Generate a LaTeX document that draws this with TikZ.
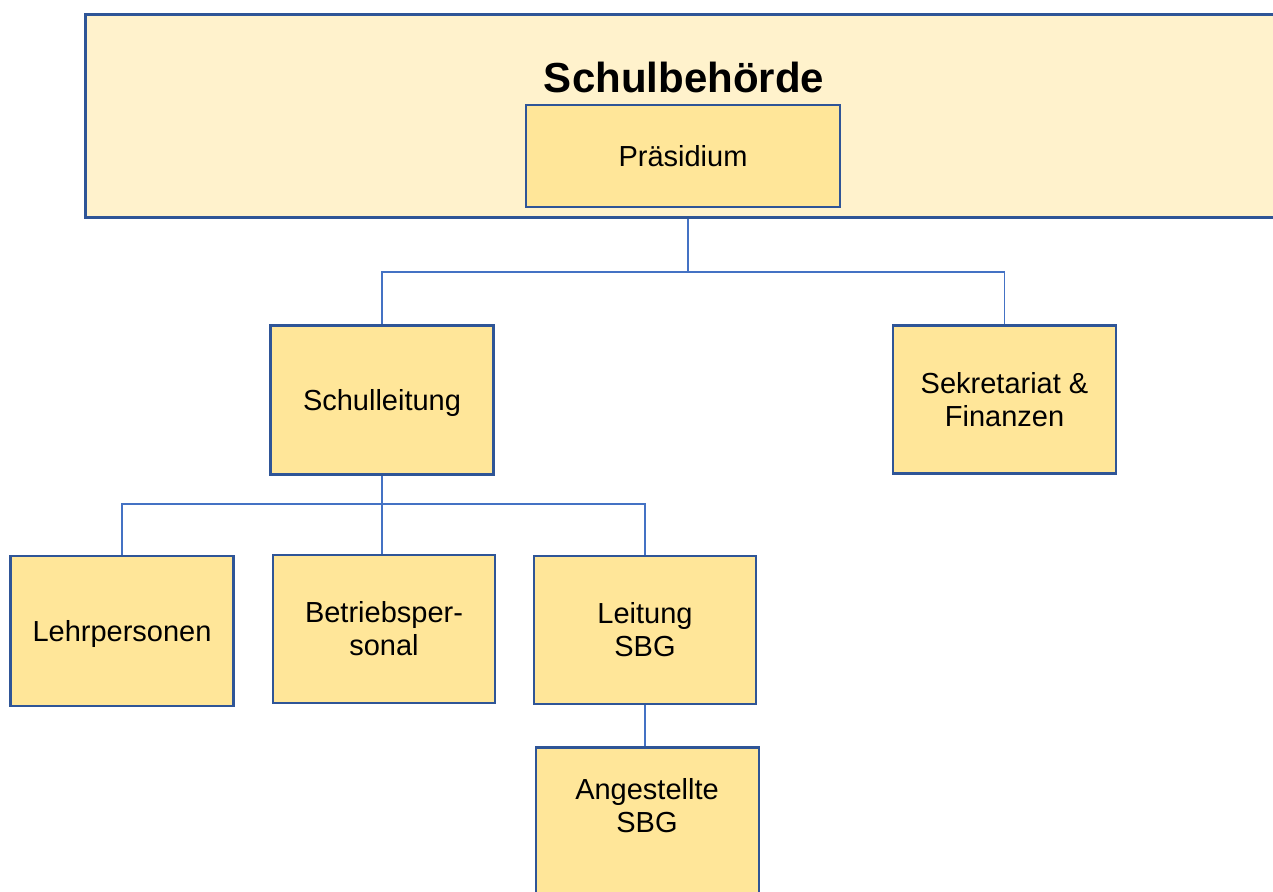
\documentclass[tikz,border=0pt]{standalone}
\usepackage{fontspec}
\setmainfont{Liberation Sans}
\definecolor{bord}{HTML}{2F5597}
\definecolor{conn}{HTML}{4472C4}
\definecolor{bigfill}{HTML}{FFF2CC}
\definecolor{boxfill}{HTML}{FFE699}
\begin{document}
\begin{tikzpicture}[x=1pt,y=-1pt,
  orgbox/.style={draw=bord,fill=boxfill,line width=2.8pt,align=center,
    font=\fontsize{29}{33}\selectfont,inner sep=0pt},
  oneline/.style={text height=26.2pt,text depth=6.1pt},
  connline/.style={draw=conn,line width=1.3pt}]
\useasboundingbox (0,0) rectangle (1273,891);
\clip (0,0) rectangle (1273,891);
% connectors first (upper part hidden by the board box)
\coordinate (j1) at (688,272);
\coordinate (j2) at (382,504);
\node[orgbox,oneline,minimum width=314,minimum height=102] (pres) at (683,156) {Präsidium};
\draw[connline] (pres.south -| j1) -- (j1);
% board box
\node[draw=bord,fill=bigfill,line width=2.8pt,minimum width=1210,minimum height=203,anchor=north west] (board) at (84,13) {};
\node[font=\bfseries\fontsize{42}{48}\selectfont,anchor=base] (title) at (684,92) {Schulbehörde};
\node[orgbox,oneline,minimum width=314,minimum height=102] (pres) at (683,156) {Präsidium};
% second level
\node[orgbox,oneline,minimum width=223,minimum height=149] (sl) at (382,400) {Schulleitung};
\node[orgbox,minimum width=223,minimum height=148] (sk) at (1004.5,399.5) {Sekretariat \&\\Finanzen};
\draw[connline] (sl.north) |- (j1) -| (sk.north);
% third level
\node[orgbox,oneline,minimum width=223,minimum height=150] (lp) at (122,631) {Lehrpersonen};
\node[orgbox,minimum width=222,minimum height=148] (bp) at (384,629) {Betriebsper-\\sonal};
\node[orgbox,minimum width=222,minimum height=148] (ls) at (645,630) {Leitung\\SBG};
\draw[connline] (sl.south) -- (sl.south |- bp.north);
\draw[connline] (lp.north) |- (j2) -| (ls.north);
% fourth level
\node[orgbox,minimum width=223,minimum height=170,anchor=north] (ang) at (647.5,746) {};
\node[align=center,font=\fontsize{29}{33}\selectfont,inner sep=0pt] (angtext) at (647,806) {Angestellte\\SBG};
\draw[connline] (ls.south) -- (ls.south |- ang.north);
\end{tikzpicture}
\end{document}
